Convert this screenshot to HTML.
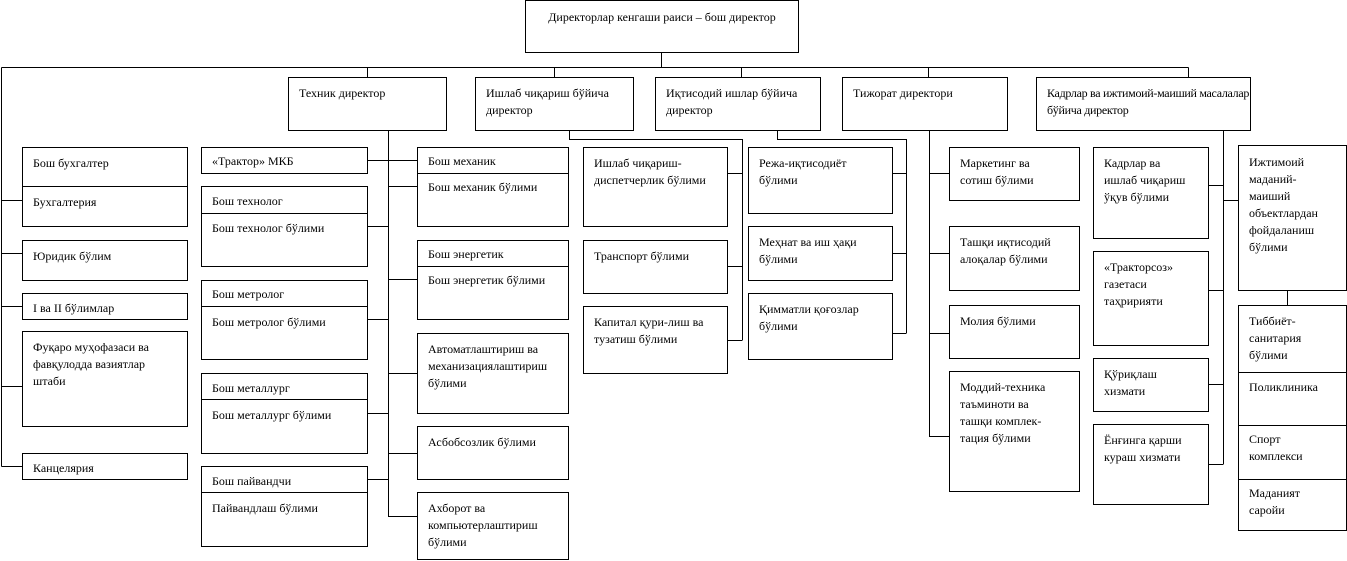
<!DOCTYPE html>
<html><head><meta charset="utf-8"><style>
body{margin:0;width:1347px;height:561px;background:#fff;position:relative;overflow:hidden;font-family:"Liberation Serif",serif;font-size:12px;color:#000}
.b{position:absolute;border:1px solid #000;box-sizing:border-box;background:#fff;padding:7px 0 0 10px;line-height:17px;white-space:nowrap}
.s{position:absolute;left:0;right:0;border-top:1px solid #000}
.t{position:absolute;left:10px}
svg{position:absolute;left:0;top:0}
</style></head><body>
<svg width="1347" height="561" stroke="#000" stroke-width="1" fill="none" shape-rendering="crispEdges">
<path d="M661.5 52V67.5M1.5 67.5H1188.5M1.5 67.5V466.5M367.5 67.5V77M554.5 67.5V77M741.5 67.5V77M928.5 67.5V77M1188.5 67.5V77"/>
<path d="M1.5 200.5H22M1.5 253.5H22M1.5 306.5H22M1.5 386.5H22M1.5 466.5H22"/>
<path d="M388.5 130V516.5M367 160.5H417M367 226.5H388M367 319.5H388M367 413.5H388M367 479.5H388M388 186.5H417M388 279.5H417M388 373.5H417M388 453.5H417M388 516.5H417"/>
<path d="M569.5 130V139.5H742.5V340.5M727 173.5H742M727 266.5H742M727 340.5H742"/>
<path d="M777.5 130V139.5H906.5V333.5M892 173.5H906M892 253.5H906M892 333.5H906"/>
<path d="M929.5 130V436.5M929 173.5H949M929 253.5H949M929 333.5H949M929 436.5H949"/>
<path d="M1223.5 130V464.5M1208 185.5H1223M1208 290.5H1223M1208 384.5H1223M1208 464.5H1223M1223 200.5H1238M1287.5 290V305"/>
</svg>
<div class="b" style="left:525px;top:0;width:274px;height:53px;padding:8px 0 0 0;text-align:center">Директорлар кенгаши раиси – бош директор</div>
<div class="b" style="left:288px;top:77px;width:159px;height:54px">Техник директор</div>
<div class="b" style="left:475px;top:77px;width:159px;height:54px">Ишлаб чиқариш бўйича<br>директор</div>
<div class="b" style="left:655px;top:77px;width:166px;height:54px">Иқтисодий ишлар бўйича<br>директор</div>
<div class="b" style="left:842px;top:77px;width:166px;height:54px">Тижорат директори</div>
<div class="b" style="left:1036px;top:77px;width:215px;height:54px;letter-spacing:-0.3px">Кадрлар ва ижтимоий-маиший масалалар<br>бўйича директор</div>

<div class="b" style="left:22px;top:147px;width:166px;height:80px">Бош бухгалтер<div class="s" style="top:38px"></div><div class="t" style="top:46px">Бухгалтерия</div></div>
<div class="b" style="left:22px;top:240px;width:166px;height:41px">Юридик бўлим</div>
<div class="b" style="left:22px;top:293px;width:166px;height:27px;padding-top:6px">I ва II бўлимлар</div>
<div class="b" style="left:22px;top:331px;width:166px;height:96px">Фуқаро муҳофазаси ва<br>фавқулодда вазиятлар<br>штаби</div>
<div class="b" style="left:22px;top:453px;width:166px;height:27px;padding-top:6px">Канцелярия</div>

<div class="b" style="left:201px;top:147px;width:167px;height:27px;padding-top:5px">«Трактор» МКБ</div>
<div class="b" style="left:201px;top:186px;width:167px;height:81px;padding-top:6px">Бош технолог<div class="s" style="top:26px"></div><div class="t" style="top:33px">Бош технолог бўлими</div></div>
<div class="b" style="left:201px;top:280px;width:167px;height:80px;padding-top:5px">Бош метролог<div class="s" style="top:25px"></div><div class="t" style="top:33px">Бош метролог бўлими</div></div>
<div class="b" style="left:201px;top:373px;width:167px;height:81px;padding-top:6px">Бош металлург<div class="s" style="top:25px"></div><div class="t" style="top:33px">Бош металлург бўлими</div></div>
<div class="b" style="left:201px;top:466px;width:167px;height:81px;padding-top:6px">Бош пайвандчи<div class="s" style="top:25px"></div><div class="t" style="top:33px">Пайвандлаш бўлими</div></div>

<div class="b" style="left:417px;top:147px;width:152px;height:80px;padding-top:5px">Бош механик<div class="s" style="top:25px"></div><div class="t" style="top:31px">Бош механик бўлими</div></div>
<div class="b" style="left:417px;top:240px;width:152px;height:80px;padding-top:5px">Бош энергетик<div class="s" style="top:25px"></div><div class="t" style="top:31px">Бош энергетик бўлими</div></div>
<div class="b" style="left:417px;top:333px;width:152px;height:81px">Автоматлаштириш ва<br>механизациялаштириш<br>бўлими</div>
<div class="b" style="left:417px;top:426px;width:152px;height:54px">Асбобсозлик бўлими</div>
<div class="b" style="left:417px;top:492px;width:152px;height:68px">Ахборот ва<br>компьютерлаштириш<br>бўлими</div>

<div class="b" style="left:583px;top:147px;width:145px;height:80px">Ишлаб чиқариш-<br>диспетчерлик бўлими</div>
<div class="b" style="left:583px;top:240px;width:145px;height:54px">Транспорт бўлими</div>
<div class="b" style="left:583px;top:306px;width:145px;height:68px">Капитал қури-лиш ва<br>тузатиш бўлими</div>

<div class="b" style="left:748px;top:147px;width:145px;height:67px">Режа-иқтисодиёт<br>бўлими</div>
<div class="b" style="left:748px;top:226px;width:145px;height:55px">Меҳнат ва иш ҳақи<br>бўлими</div>
<div class="b" style="left:748px;top:293px;width:145px;height:67px">Қимматли қоғозлар<br>бўлими</div>

<div class="b" style="left:949px;top:147px;width:131px;height:54px">Маркетинг ва<br>сотиш бўлими</div>
<div class="b" style="left:949px;top:226px;width:131px;height:65px">Ташқи иқтисодий<br>алоқалар бўлими</div>
<div class="b" style="left:949px;top:305px;width:131px;height:54px">Молия бўлими</div>
<div class="b" style="left:949px;top:371px;width:131px;height:121px">Моддий-техника<br>таъминоти ва<br>ташқи комплек-<br>тация бўлими</div>

<div class="b" style="left:1093px;top:147px;width:116px;height:92px">Кадрлар ва<br>ишлаб чиқариш<br>ўқув бўлими</div>
<div class="b" style="left:1093px;top:251px;width:116px;height:95px">«Тракторсоз»<br>газетаси<br>таҳририяти</div>
<div class="b" style="left:1093px;top:358px;width:116px;height:54px">Қўриқлаш<br>хизмати</div>
<div class="b" style="left:1093px;top:424px;width:116px;height:81px">Ёнғинга қарши<br>кураш хизмати</div>

<div class="b" style="left:1238px;top:145px;width:109px;height:146px;padding-top:8px">Ижтимоий<br>маданий-<br>маиший<br>объектлардан<br>фойдаланиш<br>бўлими</div>
<div class="b" style="left:1238px;top:305px;width:109px;height:226px">Тиббиёт-<br>санитария<br>бўлими
<div class="s" style="top:66px"></div><div class="t" style="top:73px">Поликлиника</div>
<div class="s" style="top:119px"></div><div class="t" style="top:125px">Спорт<br>комплекси</div>
<div class="s" style="top:173px"></div><div class="t" style="top:179px">Маданият<br>саройи</div></div>
</body></html>
